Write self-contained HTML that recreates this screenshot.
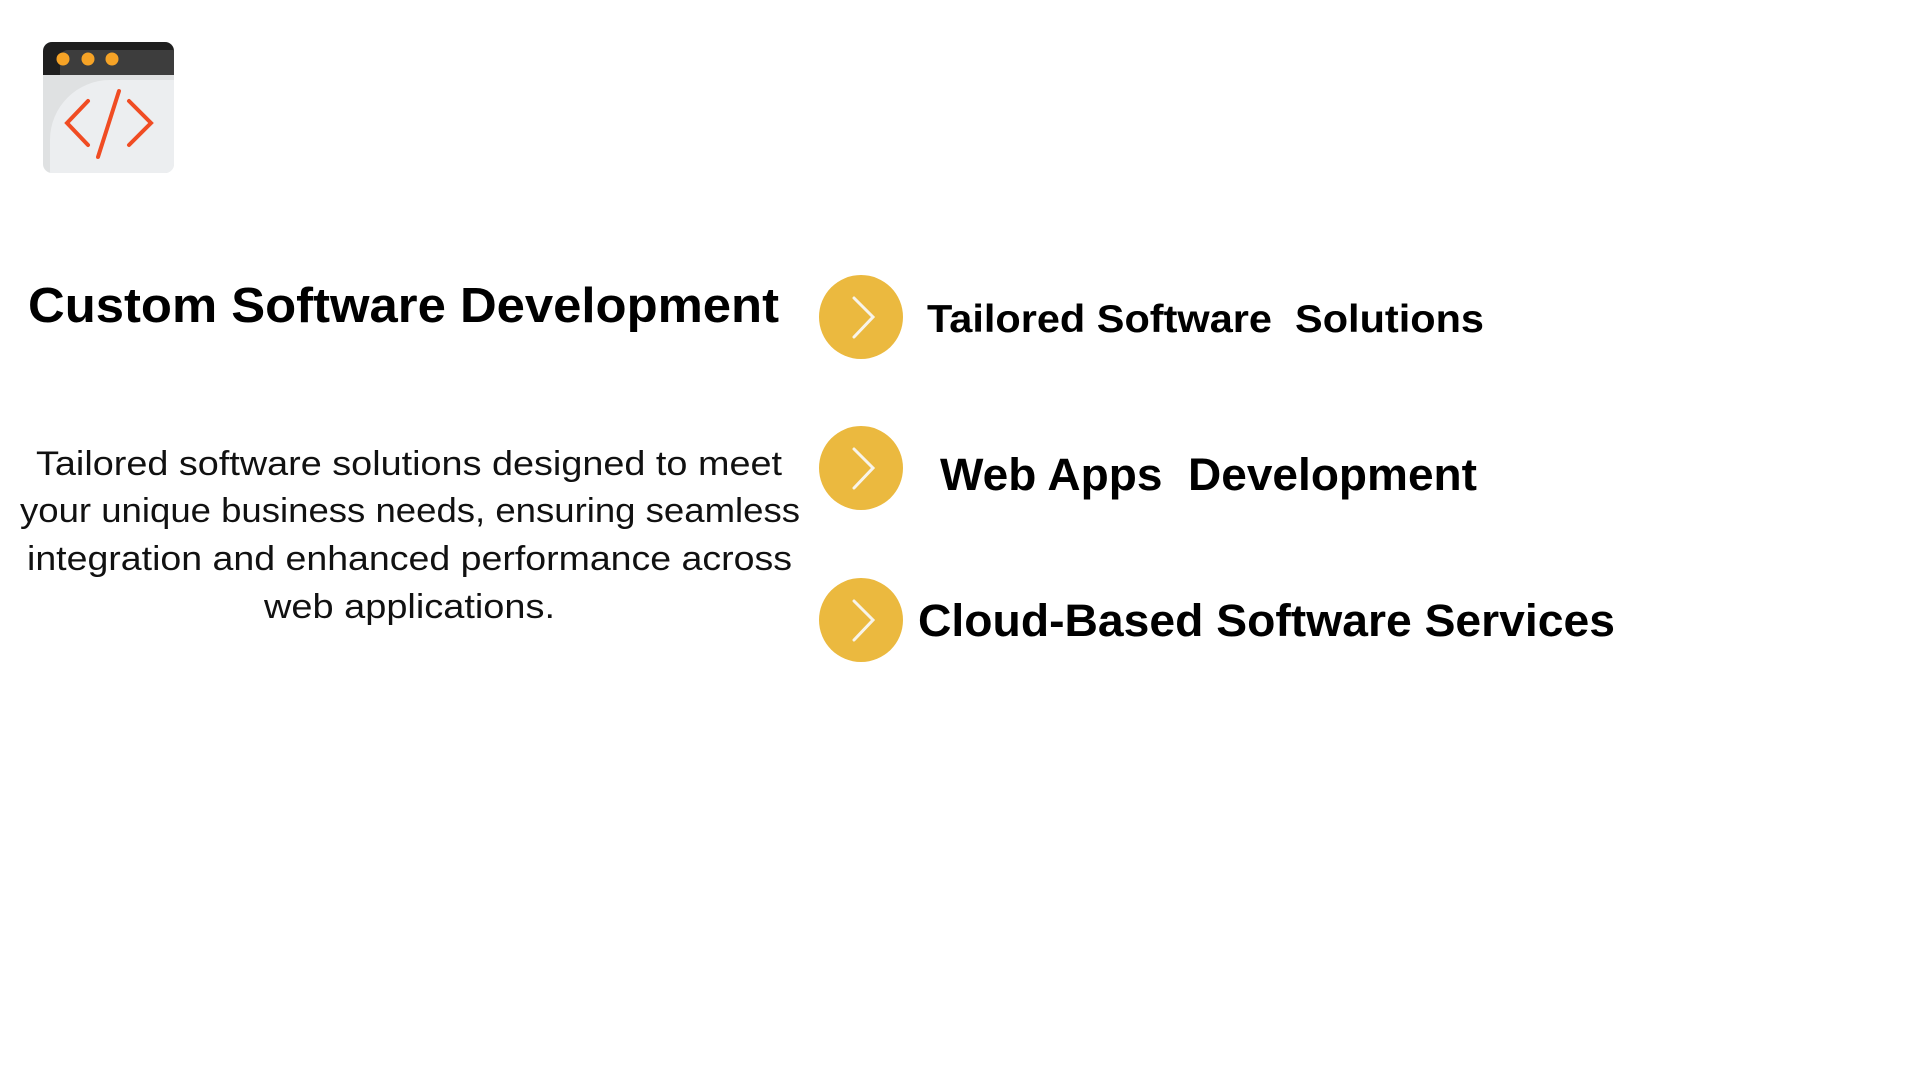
<!DOCTYPE html>
<html><head><meta charset="utf-8"><style>html,body{margin:0;padding:0;background:#fff;width:1920px;height:1080px;overflow:hidden}</style></head>
<body>
<svg width="1920" height="1080" viewBox="0 0 1920 1080" xmlns="http://www.w3.org/2000/svg" font-family="Liberation Sans, sans-serif">
<rect x="43" y="42" width="131" height="131" rx="9" fill="#dfe1e2"/>
<path d="M52 42 H165 a9 9 0 0 1 9 9 V75 H43 V51 a9 9 0 0 1 9 -9z" fill="#1f1f1f"/>
<path d="M60 75 V58 a8 8 0 0 1 8 -8 H174 V75z" fill="#3d3d3d"/>
<path d="M50 173 V140 a60 60 0 0 1 60 -60 H174 V164 a9 9 0 0 1 -9 9z" fill="#eceef0"/>
<circle cx="63" cy="59" r="6.5" fill="#f6a326"/>
<circle cx="88" cy="59" r="6.5" fill="#f6a326"/>
<circle cx="112" cy="59" r="6.5" fill="#f6a326"/>
<g stroke="#f04c23" stroke-width="4" stroke-linecap="round" fill="none">
<polyline points="88,101 67,123 88,145"/>
<polyline points="129,101 151,123 129,145"/>
<line x1="119" y1="91" x2="98" y2="157"/>
</g>
<text x="28" y="322" font-size="49" font-weight="bold" fill="#000" textLength="751" lengthAdjust="spacingAndGlyphs">Custom Software Development</text>
<g font-size="34" fill="#111">
<text x="36" y="475" textLength="746" lengthAdjust="spacingAndGlyphs">Tailored software solutions designed to meet</text>
<text x="20" y="522" textLength="780" lengthAdjust="spacingAndGlyphs">your unique business needs, ensuring seamless</text>
<text x="27" y="570" textLength="765" lengthAdjust="spacingAndGlyphs">integration and enhanced performance across</text>
<text x="264" y="618" textLength="291" lengthAdjust="spacingAndGlyphs">web applications.</text>
</g>
<g>
<circle cx="861" cy="317" r="42" fill="#ebb93f"/>
<circle cx="861" cy="468" r="42" fill="#ebb93f"/>
<circle cx="861" cy="620" r="42" fill="#ebb93f"/>
<g stroke="#f8f4ea" stroke-width="3" stroke-linecap="round" fill="none">
<polyline points="854,298 873,317 854,337"/>
<polyline points="854,449 873,468 854,488"/>
<polyline points="854,601 873,620 854,640"/>
</g>
</g>
<g font-weight="bold" fill="#000">
<text x="927" y="332" font-size="39" textLength="557" lengthAdjust="spacingAndGlyphs" xml:space="preserve">Tailored Software  Solutions</text>
<text x="940" y="490" font-size="45" textLength="537" lengthAdjust="spacingAndGlyphs" xml:space="preserve">Web Apps  Development</text>
<text x="918" y="636" font-size="45" textLength="697" lengthAdjust="spacingAndGlyphs">Cloud-Based Software Services</text>
</g>
</svg>
</body></html>
